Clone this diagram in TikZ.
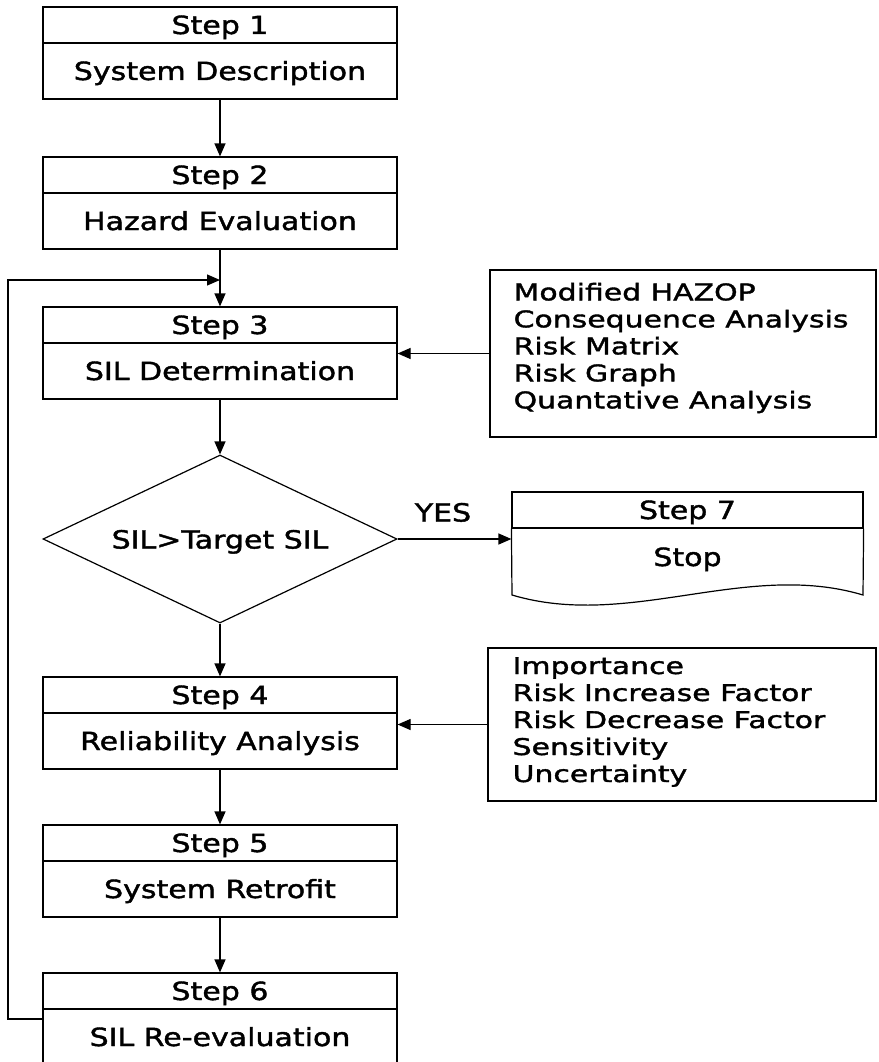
\documentclass[tikz,border=0pt]{standalone}
\usepackage{fontspec}
\setmainfont{DejaVu Sans}
\newfontfamily\stepfont[FakeStretch=1.2,FakeBold=1.6]{DejaVu Sans}
\newfontfamily\listfont[FakeStretch=1.3,FakeBold=1.6]{DejaVu Sans}
\usetikzlibrary{arrows.meta,shapes.geometric}
\begin{document}
\begin{tikzpicture}[x=1pt,y=-1pt,line width=1.2pt,
  arr/.style={-{Triangle[length=13pt,width=11pt]}},
  hdr/.style={draw, minimum width=354pt, minimum height=36pt, inner sep=0pt,
    font=\stepfont\fontsize{25}{28}\selectfont, text height=18pt, text depth=0pt},
  bdy/.style={hdr, minimum height=56pt},
  mbox/.style={draw, inner sep=0pt},
  lst/.style={align=left, inner sep=0pt, font=\listfont\fontsize{23}{27}\selectfont},
  dec/.style={draw, diamond, aspect=2.107, minimum width=354pt, minimum height=168pt,
    inner sep=0pt, font=\stepfont\fontsize{25}{28}\selectfont, text height=19pt, text depth=0pt},
  lbl/.style={inner sep=0pt, font=\stepfont\fontsize{25}{28}\selectfont, text height=19pt, text depth=0pt}]
\useasboundingbox (0,0) rectangle (878,1062);
\clip (0,0) rectangle (878,1062);
% steps
\node[hdr] (s1h) at (220,25) {Step 1};
\node[bdy] (s1) at (220,71) {System Description};
\node[hdr] (s2h) at (220,175) {Step 2};
\node[bdy] (s2) at (220,221) {Hazard Evaluation};
\node[hdr] (s3h) at (220,325) {Step 3};
\node[bdy] (s3) at (220,371) {SIL Determination};
\node[dec] (dia) at (220,539) {SIL>Target SIL};
\node[hdr] (s4h) at (220,695) {Step 4};
\node[bdy] (s4) at (220,741) {Reliability Analysis};
\node[hdr] (s5h) at (220,843) {Step 5};
\node[bdy] (s5) at (220,889) {System Retrofit};
\node[hdr] (s6h) at (220,991) {Step 6};
\node[bdy] (s6) at (220,1037) {SIL Re-evaluation};
% step 7 (document shape)
\node[hdr, minimum width=351pt] (s7h) at (687.5,510) {Step 7};
\node[lbl, text height=18pt] (s7) at (687.5,557) {Stop};
\draw (s7h.south west) -- (512,595) .. controls (629,630) and (746,560) .. (863,595) -- (s7h.south east);
% method boxes
\node[mbox, minimum width=386pt, minimum height=167pt] (m1) at (683,353.5) {};
\node[lst, anchor=west] (m1t) at (513,348) {Modified HAZOP\\Consequence Analysis\\Risk Matrix\\Risk Graph\\Quantative Analysis};
\node[mbox, minimum width=388pt, minimum height=153pt] (m2) at (682,724.5) {};
\node[lst, anchor=west] (m2t) at (512,722) {Importance\\Risk Increase Factor\\Risk Decrease Factor\\Sensitivity\\Uncertainty};
% connectors
\draw[arr] (s1) -- (s2h);
\draw[arr] (s2) -- (s3h);
\draw[arr] (s3) -- (dia);
\draw[arr] (dia) -- (s4h);
\draw[arr] (s4) -- (s5h);
\draw[arr] (s5) -- (s6h);
\draw[arr] (dia.east) -- (dia.east -| s7h.west);
\node[lbl] (yes) at (443,512) {YES};
\draw[arr] (m1.west) -- (m1.west -| s3.east);
\draw[arr] (m2.west) -- (m2.west -| s4.east);
\coordinate (lp1) at (8,1019);
\coordinate (lp2) at (8,280);
\coordinate (jn) at (220,280);
\draw[arr] (s6.west |- lp1) -- (lp1) -- (lp2) -- (jn);
\end{tikzpicture}
\end{document}
